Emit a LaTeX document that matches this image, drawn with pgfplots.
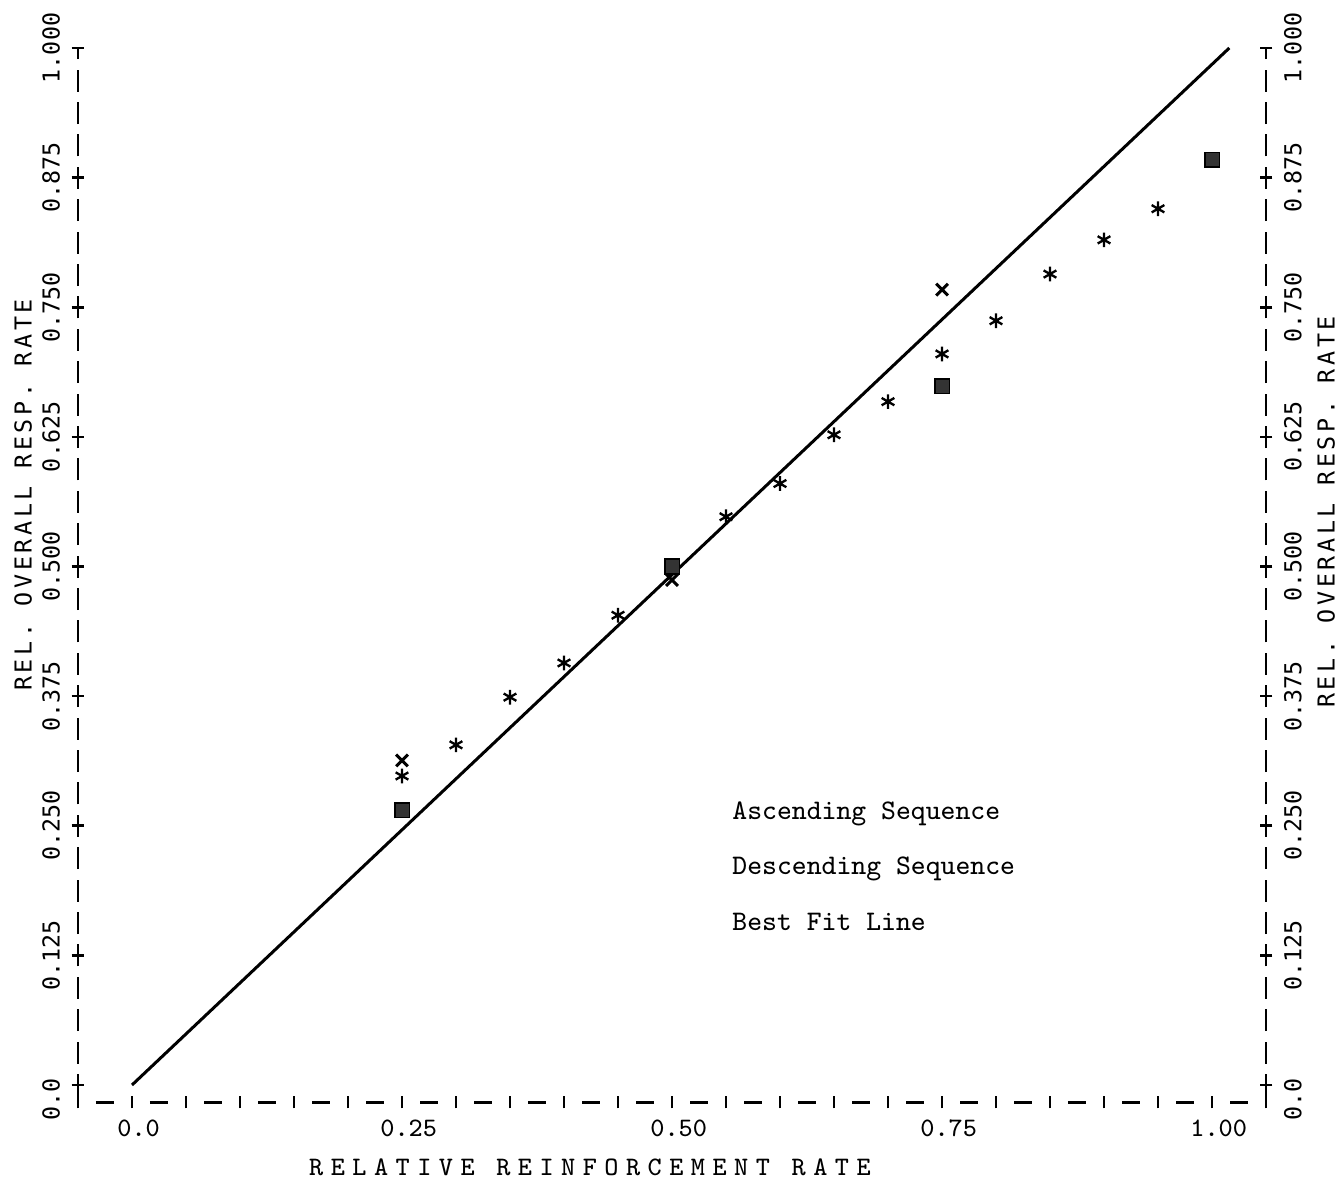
\documentclass[border=0pt]{standalone}
\usepackage{fontspec}
\usepackage{pgfplots}
\pgfplotsset{compat=1.18}
\newfontfamily\prt{DejaVu Sans Mono}
\newfontfamily\prtsp{DejaVu Sans Mono}[LetterSpace=15.5]
\newfontfamily\typsp{Latin Modern Mono}[LetterSpace=28]
\begin{document}
\begin{tikzpicture}
\useasboundingbox (-23.4pt,-23.7pt) rectangle (377.7pt,330.6pt);
\begin{axis}[
  at={(0,0)}, anchor=south west,
  scale only axis, width=356.4pt, height=316.2pt,
  xmin=-0.05, xmax=1.05, ymin=-0.0164, ymax=1,
  axis x line*=bottom, axis y line*=box,
  axis line style={draw=none},
  clip=false,
  xtick={0,0.25,0.5,0.75,1},
  xticklabels={0.0,0.25,0.50,0.75,1.00},
  minor xtick={-0.05,0.05,0.1,0.15,0.2,0.3,0.35,0.4,0.45,0.55,0.6,0.65,0.7,0.8,0.85,0.9,0.95,1.05},
  ytick={0,0.125,0.25,0.375,0.5,0.625,0.75,0.875,1},
  yticklabels={0.0\hphantom{00},0.125,0.250,0.375,0.500,0.625,0.750,0.875,1.000},
  tick align=center,
  major tick length=3.8pt, minor tick length=3.8pt,
  tick style={black, line width=0.8pt},
  xticklabel style={font=\ttfamily\fontsize{8}{9}\selectfont, xshift=2pt},
  yticklabel style={rotate=90, anchor=south, font=\prt\fontsize{7}{8}\selectfont},
]
% dashed frame lines (typewriter style)
\draw[line width=0.9pt, dash pattern=on 5.4pt off 10.8pt, dash phase=10.8pt]
  (axis cs:-0.05,-0.0164) -- (axis cs:1.05,-0.0164);
\draw[line width=0.8pt, dash pattern=on 6.6pt off 3.12pt, dash phase=7.92pt]
  (axis cs:-0.05,-0.0164) -- (axis cs:-0.05,1);
\draw[line width=0.8pt, dash pattern=on 6.6pt off 3.12pt, dash phase=7.92pt]
  (axis cs:1.05,-0.0164) -- (axis cs:1.05,1);

% best fit line
\addplot[line width=0.9pt, black] coordinates {(0,0) (1.016,1.0)};

% asterisks
\addplot[only marks, mark=asterisk, mark size=2.2pt, mark options={line width=0.7pt, black}] coordinates {
(0.25,0.298) (0.30,0.328) (0.35,0.374) (0.40,0.407) (0.45,0.453)
(0.55,0.548) (0.60,0.580) (0.65,0.627) (0.70,0.659) (0.75,0.705)
(0.80,0.737) (0.85,0.782) (0.90,0.815) (0.95,0.845)};

% crosses
\addplot[only marks, mark=x, mark size=2.5pt, mark options={line width=0.9pt, black}] coordinates {
(0.25,0.313) (0.50,0.487) (0.75,0.767)};

% filled squares (overprints)
\addplot[only marks, mark=square*, mark size=2.2pt, mark options={draw=black, fill=black!80, line width=0.5pt, rounded corners=0.8pt}] coordinates {
(0.25,0.265) (0.50,0.500) (0.75,0.674) (1.00,0.892)};

% legend text
\node[anchor=west, font=\ttfamily\fontsize{8.5}{10}\selectfont] at (axis cs:0.545,0.261) {Ascending Sequence};
\node[anchor=west, font=\ttfamily\fontsize{8.5}{10}\selectfont] at (axis cs:0.545,0.208) {Descending Sequence};
\node[anchor=west, font=\ttfamily\fontsize{8.5}{10}\selectfont] at (axis cs:0.545,0.157) {Best Fit Line};

% axis titles
\node[font=\typsp\fontsize{8}{9}\selectfont] at (axis cs:0.424,-0.0791) {RELATIVE REINFORCEMENT RATE};
\node[rotate=90, font=\prtsp\fontsize{7}{8}\selectfont] at (axis cs:-0.1009,0.569) {REL. OVERALL RESP. RATE};
\node[rotate=90, font=\prtsp\fontsize{7}{8}\selectfont] at (axis cs:1.1056,0.5525) {REL. OVERALL RESP. RATE};
\end{axis}
\begin{axis}[
  at={(0,0)}, anchor=south west,
  scale only axis, width=356.4pt, height=316.2pt,
  xmin=-0.05, xmax=1.05, ymin=-0.0164, ymax=1,
  axis x line=none, axis y line*=right,
  axis line style={draw=none},
  ytick={0,0.125,0.25,0.375,0.5,0.625,0.75,0.875,1},
  yticklabels={0.0\hphantom{00},0.125,0.250,0.375,0.500,0.625,0.750,0.875,1.000},
  yticklabel pos=right,
  ytick style={draw=none},
  tick align=center, major tick length=3.8pt,
  yticklabel style={rotate=90, anchor=north, font=\prt\fontsize{7}{8}\selectfont},
]
\end{axis}
\end{tikzpicture}
\end{document}
